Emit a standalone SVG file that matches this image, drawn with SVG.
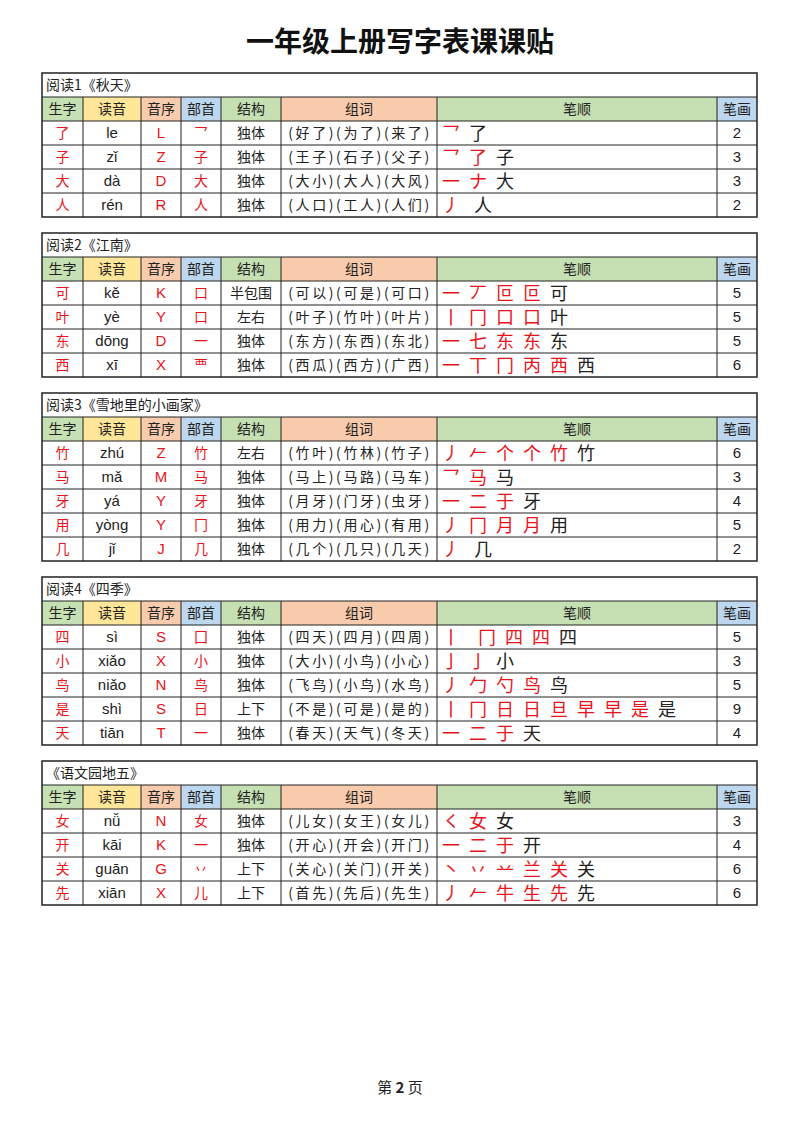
<svg xmlns="http://www.w3.org/2000/svg" width="800" height="1132" viewBox="0 0 800 1132">
<style>
text{font-family:"Noto Sans CJK SC","Liberation Sans",sans-serif;font-size:14px;text-anchor:middle;fill:#222}
.r{fill:#e8141b}
.p{font-family:"Liberation Sans",sans-serif;font-size:15px}
.l{text-anchor:start}
.w{letter-spacing:2.6px}
.s{font-size:18px;text-anchor:start}
.ln{stroke:#222;stroke-width:1;fill:none}
.o{stroke:#222;stroke-width:1.5;fill:none}
.g{fill:#c6e0b4}.y{fill:#ffe699}.or{fill:#f8cbad}.b{fill:#bdd7ee}
</style>
<defs>
<g id="hdr">
<rect class="g" x="42" y="0" width="41" height="24"/><rect class="y" x="83" y="0" width="58" height="24"/><rect class="or" x="141" y="0" width="40" height="24"/><rect class="b" x="181" y="0" width="40" height="24"/><rect class="g" x="221" y="0" width="60" height="24"/><rect class="or" x="281" y="0" width="156" height="24"/><rect class="g" x="437" y="0" width="280" height="24"/><rect class="b" x="717" y="0" width="40" height="24"/>
<text x="62.5" y="17">生字</text><text x="112" y="17">读音</text><text x="161" y="17">音序</text><text x="201" y="17">部首</text><text x="251" y="17">结构</text><text x="359" y="17">组词</text><text x="577" y="17">笔顺</text><text x="737" y="17">笔画</text>
</g>
</defs>
<text x="400" y="52" style="font-size:28px;font-weight:bold;fill:#111">一年级上册写字表课课贴</text>

<g id="table1">
<use href="#hdr" y="97"/>
<text class="l" x="46" y="90">阅读1《秋天》</text>
<path class="ln" d="M42 97H757M42 121H757M42 145H757M42 169H757M42 193H757M83 97V217M141 97V217M181 97V217M221 97V217M281 97V217M437 97V217M717 97V217"/>
<rect class="o" x="42" y="73" width="715" height="144"/>
<g transform="translate(0,121)">
<text class="r" x="62.5" y="17">了</text><text class="p" x="112" y="17">le</text><text class="r p" x="161" y="17">L</text><text class="r" x="201" y="17">乛</text><text x="251" y="17">独体</text><text class="w" x="360" y="17">(好了)(为了)(来了)</text><text class="s r" x="442" y="19">乛</text><text class="s" x="469" y="19">了</text><text class="p" x="737" y="17">2</text>
</g>
<g transform="translate(0,145)">
<text class="r" x="62.5" y="17">子</text><text class="p" x="112" y="17">zǐ</text><text class="r p" x="161" y="17">Z</text><text class="r" x="201" y="17">子</text><text x="251" y="17">独体</text><text class="w" x="360" y="17">(王子)(石子)(父子)</text><text class="s r" x="442" y="19">乛</text><text class="s r" x="469" y="19">了</text><text class="s" x="496" y="19">子</text><text class="p" x="737" y="17">3</text>
</g>
<g transform="translate(0,169)">
<text class="r" x="62.5" y="17">大</text><text class="p" x="112" y="17">dà</text><text class="r p" x="161" y="17">D</text><text class="r" x="201" y="17">大</text><text x="251" y="17">独体</text><text class="w" x="360" y="17">(大小)(大人)(大风)</text><text class="s r" x="442" y="19">一</text><text class="s r" x="469" y="19">ナ</text><text class="s" x="496" y="19">大</text><text class="p" x="737" y="17">3</text>
</g>
<g transform="translate(0,193)">
<text class="r" x="62.5" y="17">人</text><text class="p" x="112" y="17">rén</text><text class="r p" x="161" y="17">R</text><text class="r" x="201" y="17">人</text><text x="251" y="17">独体</text><text class="w" x="360" y="17">(人口)(工人)(人们)</text><text class="s r" x="442" y="19">丿</text><text class="s" x="474" y="19">人</text><text class="p" x="737" y="17">2</text>
</g>
</g>

<g id="table2">
<use href="#hdr" y="257"/>
<text class="l" x="46" y="250">阅读2《江南》</text>
<path class="ln" d="M42 257H757M42 281H757M42 305H757M42 329H757M42 353H757M83 257V377M141 257V377M181 257V377M221 257V377M281 257V377M437 257V377M717 257V377"/>
<rect class="o" x="42" y="233" width="715" height="144"/>
<g transform="translate(0,281)">
<text class="r" x="62.5" y="17">可</text><text class="p" x="112" y="17">kě</text><text class="r p" x="161" y="17">K</text><text class="r" x="201" y="17">口</text><text x="251" y="17">半包围</text><text class="w" x="360" y="17">(可以)(可是)(可口)</text><text class="s r" x="442" y="19">一</text><text class="s r" x="469" y="19">丆</text><text class="s r" x="496" y="19">叵</text><text class="s r" x="523" y="19">叵</text><text class="s" x="550" y="19">可</text><text class="p" x="737" y="17">5</text>
</g>
<g transform="translate(0,305)">
<text class="r" x="62.5" y="17">叶</text><text class="p" x="112" y="17">yè</text><text class="r p" x="161" y="17">Y</text><text class="r" x="201" y="17">口</text><text x="251" y="17">左右</text><text class="w" x="360" y="17">(叶子)(竹叶)(叶片)</text><text class="s r" x="442" y="19">丨</text><text class="s r" x="469" y="19">冂</text><text class="s r" x="496" y="19">口</text><text class="s r" x="523" y="19">口</text><text class="s" x="550" y="19">叶</text><text class="p" x="737" y="17">5</text>
</g>
<g transform="translate(0,329)">
<text class="r" x="62.5" y="17">东</text><text class="p" x="112" y="17">dōng</text><text class="r p" x="161" y="17">D</text><text class="r" x="201" y="17">一</text><text x="251" y="17">独体</text><text class="w" x="360" y="17">(东方)(东西)(东北)</text><text class="s r" x="442" y="19">一</text><text class="s r" x="469" y="19">七</text><text class="s r" x="496" y="19">东</text><text class="s r" x="523" y="19">东</text><text class="s" x="550" y="19">东</text><text class="p" x="737" y="17">5</text>
</g>
<g transform="translate(0,353)">
<text class="r" x="62.5" y="17">西</text><text class="p" x="112" y="17">xī</text><text class="r p" x="161" y="17">X</text><text class="r" x="201" y="17">覀</text><text x="251" y="17">独体</text><text class="w" x="360" y="17">(西瓜)(西方)(广西)</text><text class="s r" x="442" y="19">一</text><text class="s r" x="469" y="19">丅</text><text class="s r" x="496" y="19">冂</text><text class="s r" x="523" y="19">丙</text><text class="s r" x="550" y="19">西</text><text class="s" x="577" y="19">西</text><text class="p" x="737" y="17">6</text>
</g>
</g>

<g id="table3">
<use href="#hdr" y="417"/>
<text class="l" x="46" y="410">阅读3《雪地里的小画家》</text>
<path class="ln" d="M42 417H757M42 441H757M42 465H757M42 489H757M42 513H757M42 537H757M83 417V561M141 417V561M181 417V561M221 417V561M281 417V561M437 417V561M717 417V561"/>
<rect class="o" x="42" y="393" width="715" height="168"/>
<g transform="translate(0,441)">
<text class="r" x="62.5" y="17">竹</text><text class="p" x="112" y="17">zhú</text><text class="r p" x="161" y="17">Z</text><text class="r" x="201" y="17">竹</text><text x="251" y="17">左右</text><text class="w" x="360" y="17">(竹叶)(竹林)(竹子)</text><text class="s r" x="442" y="19">丿</text><text class="s r" x="469" y="19">𠂉</text><text class="s r" x="496" y="19">个</text><text class="s r" x="523" y="19">个</text><text class="s r" x="550" y="19">竹</text><text class="s" x="577" y="19">竹</text><text class="p" x="737" y="17">6</text>
</g>
<g transform="translate(0,465)">
<text class="r" x="62.5" y="17">马</text><text class="p" x="112" y="17">mǎ</text><text class="r p" x="161" y="17">M</text><text class="r" x="201" y="17">马</text><text x="251" y="17">独体</text><text class="w" x="360" y="17">(马上)(马路)(马车)</text><text class="s r" x="442" y="19">乛</text><text class="s r" x="469" y="19">马</text><text class="s" x="496" y="19">马</text><text class="p" x="737" y="17">3</text>
</g>
<g transform="translate(0,489)">
<text class="r" x="62.5" y="17">牙</text><text class="p" x="112" y="17">yá</text><text class="r p" x="161" y="17">Y</text><text class="r" x="201" y="17">牙</text><text x="251" y="17">独体</text><text class="w" x="360" y="17">(月牙)(门牙)(虫牙)</text><text class="s r" x="442" y="19">一</text><text class="s r" x="469" y="19">二</text><text class="s r" x="496" y="19">于</text><text class="s" x="523" y="19">牙</text><text class="p" x="737" y="17">4</text>
</g>
<g transform="translate(0,513)">
<text class="r" x="62.5" y="17">用</text><text class="p" x="112" y="17">yòng</text><text class="r p" x="161" y="17">Y</text><text class="r" x="201" y="17">冂</text><text x="251" y="17">独体</text><text class="w" x="360" y="17">(用力)(用心)(有用)</text><text class="s r" x="442" y="19">丿</text><text class="s r" x="469" y="19">冂</text><text class="s r" x="496" y="19">月</text><text class="s r" x="523" y="19">月</text><text class="s" x="550" y="19">用</text><text class="p" x="737" y="17">5</text>
</g>
<g transform="translate(0,537)">
<text class="r" x="62.5" y="17">几</text><text class="p" x="112" y="17">jǐ</text><text class="r p" x="161" y="17">J</text><text class="r" x="201" y="17">几</text><text x="251" y="17">独体</text><text class="w" x="360" y="17">(几个)(几只)(几天)</text><text class="s r" x="442" y="19">丿</text><text class="s" x="474" y="19">几</text><text class="p" x="737" y="17">2</text>
</g>
</g>

<g id="table4">
<use href="#hdr" y="601"/>
<text class="l" x="46" y="594">阅读4《四季》</text>
<path class="ln" d="M42 601H757M42 625H757M42 649H757M42 673H757M42 697H757M42 721H757M83 601V745M141 601V745M181 601V745M221 601V745M281 601V745M437 601V745M717 601V745"/>
<rect class="o" x="42" y="577" width="715" height="168"/>
<g transform="translate(0,625)">
<text class="r" x="62.5" y="17">四</text><text class="p" x="112" y="17">sì</text><text class="r p" x="161" y="17">S</text><text class="r" x="201" y="17">囗</text><text x="251" y="17">独体</text><text class="w" x="360" y="17">(四天)(四月)(四周)</text><text class="s r" x="442" y="19">丨</text><text class="s r" x="478" y="19">冂</text><text class="s r" x="505" y="19">四</text><text class="s r" x="532" y="19">四</text><text class="s" x="559" y="19">四</text><text class="p" x="737" y="17">5</text>
</g>
<g transform="translate(0,649)">
<text class="r" x="62.5" y="17">小</text><text class="p" x="112" y="17">xiǎo</text><text class="r p" x="161" y="17">X</text><text class="r" x="201" y="17">小</text><text x="251" y="17">独体</text><text class="w" x="360" y="17">(大小)(小鸟)(小心)</text><text class="s r" x="442" y="19">亅</text><text class="s r" x="469" y="19">亅</text><text class="s" x="496" y="19">小</text><text class="p" x="737" y="17">3</text>
</g>
<g transform="translate(0,673)">
<text class="r" x="62.5" y="17">鸟</text><text class="p" x="112" y="17">niǎo</text><text class="r p" x="161" y="17">N</text><text class="r" x="201" y="17">鸟</text><text x="251" y="17">独体</text><text class="w" x="360" y="17">(飞鸟)(小鸟)(水鸟)</text><text class="s r" x="442" y="19">丿</text><text class="s r" x="469" y="19">勹</text><text class="s r" x="496" y="19">勺</text><text class="s r" x="523" y="19">鸟</text><text class="s" x="550" y="19">鸟</text><text class="p" x="737" y="17">5</text>
</g>
<g transform="translate(0,697)">
<text class="r" x="62.5" y="17">是</text><text class="p" x="112" y="17">shì</text><text class="r p" x="161" y="17">S</text><text class="r" x="201" y="17">日</text><text x="251" y="17">上下</text><text class="w" x="360" y="17">(不是)(可是)(是的)</text><text class="s r" x="442" y="19">丨</text><text class="s r" x="469" y="19">冂</text><text class="s r" x="496" y="19">日</text><text class="s r" x="523" y="19">日</text><text class="s r" x="550" y="19">旦</text><text class="s r" x="577" y="19">早</text><text class="s r" x="604" y="19">早</text><text class="s r" x="631" y="19">是</text><text class="s" x="658" y="19">是</text><text class="p" x="737" y="17">9</text>
</g>
<g transform="translate(0,721)">
<text class="r" x="62.5" y="17">天</text><text class="p" x="112" y="17">tiān</text><text class="r p" x="161" y="17">T</text><text class="r" x="201" y="17">一</text><text x="251" y="17">独体</text><text class="w" x="360" y="17">(春天)(天气)(冬天)</text><text class="s r" x="442" y="19">一</text><text class="s r" x="469" y="19">二</text><text class="s r" x="496" y="19">于</text><text class="s" x="523" y="19">天</text><text class="p" x="737" y="17">4</text>
</g>
</g>

<g id="table5">
<use href="#hdr" y="785"/>
<text class="l" x="46" y="778">《语文园地五》</text>
<path class="ln" d="M42 785H757M42 809H757M42 833H757M42 857H757M42 881H757M83 785V905M141 785V905M181 785V905M221 785V905M281 785V905M437 785V905M717 785V905"/>
<rect class="o" x="42" y="761" width="715" height="144"/>
<g transform="translate(0,809)">
<text class="r" x="62.5" y="17">女</text><text class="p" x="112" y="17">nǚ</text><text class="r p" x="161" y="17">N</text><text class="r" x="201" y="17">女</text><text x="251" y="17">独体</text><text class="w" x="360" y="17">(儿女)(女王)(女儿)</text><text class="s r" x="442" y="19">㇛</text><text class="s r" x="469" y="19">女</text><text class="s" x="496" y="19">女</text><text class="p" x="737" y="17">3</text>
</g>
<g transform="translate(0,833)">
<text class="r" x="62.5" y="17">开</text><text class="p" x="112" y="17">kāi</text><text class="r p" x="161" y="17">K</text><text class="r" x="201" y="17">一</text><text x="251" y="17">独体</text><text class="w" x="360" y="17">(开心)(开会)(开门)</text><text class="s r" x="442" y="19">一</text><text class="s r" x="469" y="19">二</text><text class="s r" x="496" y="19">于</text><text class="s" x="523" y="19">开</text><text class="p" x="737" y="17">4</text>
</g>
<g transform="translate(0,857)">
<text class="r" x="62.5" y="17">关</text><text class="p" x="112" y="17">guān</text><text class="r p" x="161" y="17">G</text><text class="r" x="201" y="17">丷</text><text x="251" y="17">上下</text><text class="w" x="360" y="17">(关心)(关门)(开关)</text><text class="s r" x="442" y="19">丶</text><text class="s r" x="469" y="19">丷</text><text class="s r" x="496" y="19">䒑</text><text class="s r" x="523" y="19">兰</text><text class="s r" x="550" y="19">关</text><text class="s" x="577" y="19">关</text><text class="p" x="737" y="17">6</text>
</g>
<g transform="translate(0,881)">
<text class="r" x="62.5" y="17">先</text><text class="p" x="112" y="17">xiān</text><text class="r p" x="161" y="17">X</text><text class="r" x="201" y="17">儿</text><text x="251" y="17">上下</text><text class="w" x="360" y="17">(首先)(先后)(先生)</text><text class="s r" x="442" y="19">丿</text><text class="s r" x="469" y="19">𠂉</text><text class="s r" x="496" y="19">牛</text><text class="s r" x="523" y="19">生</text><text class="s r" x="550" y="19">先</text><text class="s" x="577" y="19">先</text><text class="p" x="737" y="17">6</text>
</g>
</g>

<text x="400" y="1093" style="font-size:15px">第 <tspan style="font-weight:bold">2</tspan> 页</text>
</svg>
